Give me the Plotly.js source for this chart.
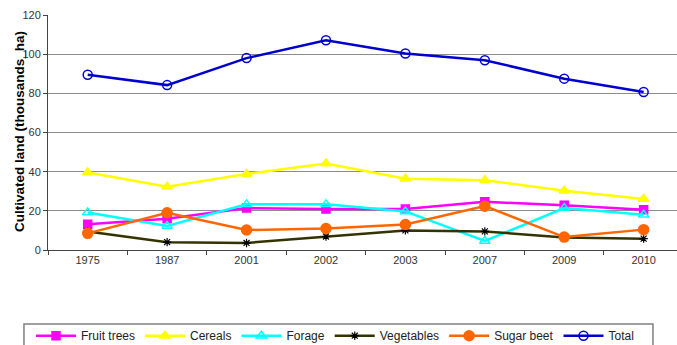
<!DOCTYPE html>
<html>
<head>
<meta charset="utf-8">
<script src="https://cdn.plot.ly/plotly-3.0.1.min.js"></script>
<style>html,body{margin:0;padding:0;background:#fff;}#chart{width:677px;height:345px;}</style>
</head>
<body>
<div id="chart"></div>
<script>
const years = ["1975", "1987", "2001", "2002", "2003", "2007", "2009", "2010"];
const fruitTrees = [13.1, 16.0, 21.4, 20.9, 20.9, 24.6, 22.8, 20.6];
const cereals = [39.6, 32.3, 38.8, 44.2, 36.4, 35.6, 30.3, 26.0];
const forage = [19.2, 12.3, 23.3, 23.3, 19.7, 4.6, 21.4, 18.0];
const vegetables = [9.5, 4.0, 3.6, 6.9, 10.0, 9.5, 6.4, 5.8];
const sugarBeet = [8.5, 19.0, 10.2, 11.0, 13.0, 22.4, 6.6, 10.4];
const total = [89.5, 84.2, 98.0, 107.1, 100.3, 96.9, 87.5, 80.7];

const seriesNames = ["Fruit trees", "Cereals", "Forage", "Vegetables", "Sugar beet", "Total"];

function tr(name, y, color, symbol, size, lineColor, mlw) {
  return {
    type: "scatter", mode: "lines+markers", name: name, x: years, y: y,
    line: {color: lineColor || color, width: 2.5},
    marker: {color: color, symbol: symbol, size: size, line: {color: color, width: mlw || 1.5}}
  };
}

const data = [
  tr(seriesNames[0], fruitTrees, "#FF00FF", "square", 8),
  tr(seriesNames[1], cereals, "#FFFF00", "triangle-up", 9),
  tr(seriesNames[2], forage, "#00FFFF", "triangle-up-open", 9),
  tr(seriesNames[3], vegetables, "#000000", "asterisk-open", 7, "#333300", 1.2),
  tr(seriesNames[4], sugarBeet, "#FF6600", "circle", 10),
  tr(seriesNames[5], total, "#0000CC", "circle-open", 9)
];

const FONT = "Liberation Sans, Arial, sans-serif";

const layout = {
  width: 677, height: 345,
  margin: {l: 48, r: 0, t: 15, b: 95, autoexpand: false},
  paper_bgcolor: "#fff", plot_bgcolor: "#fff",
  font: {family: FONT, size: 11, color: "#333"},
  showlegend: true,
  legend: {
    orientation: "h", x: -0.027, xanchor: "left", y: -0.303, yanchor: "top",
    borderwidth: 0, bgcolor: "rgba(0,0,0,0)",
    font: {family: FONT, size: 12, color: "#222"},
    itemwidth: 40
  },
  shapes: [{
    type: "rect", xref: "paper", yref: "paper",
    x0: -0.0382, x1: 0.9618, y0: -0.315, y1: -0.44,
    line: {color: "#808080", width: 1.5}, fillcolor: "rgba(0,0,0,0)", layer: "below"
  }],
  annotations: [{
    text: "<b>Cultivated land (thousands_ha)</b>", textangle: -90,
    xref: "paper", yref: "paper", x: -0.045, y: 0.505, xanchor: "center", yanchor: "middle",
    showarrow: false, font: {family: FONT, size: 13.5, color: "#000"}
  }],
  xaxis: {
    type: "category", range: [-0.5, 7.42],
    showgrid: false, zeroline: false,
    showline: true, linecolor: "#444", linewidth: 1,
    ticks: "outside", ticklen: 4, tickcolor: "#444", tickson: "boundaries",
    tickfont: {size: 11, color: "#333"}, fixedrange: true
  },
  yaxis: {
    range: [0, 120], dtick: 20, tick0: 0,
    showgrid: true, gridcolor: "#8c8c8c", gridwidth: 1,
    zeroline: false, showline: true, linecolor: "#444", linewidth: 1,
    ticks: "outside", ticklen: 4, tickcolor: "#444",
    tickfont: {size: 11, color: "#333"}
  }
};

Plotly.newPlot("chart", data, layout, {displayModeBar: false, staticPlot: true});
</script>
</body>
</html>
